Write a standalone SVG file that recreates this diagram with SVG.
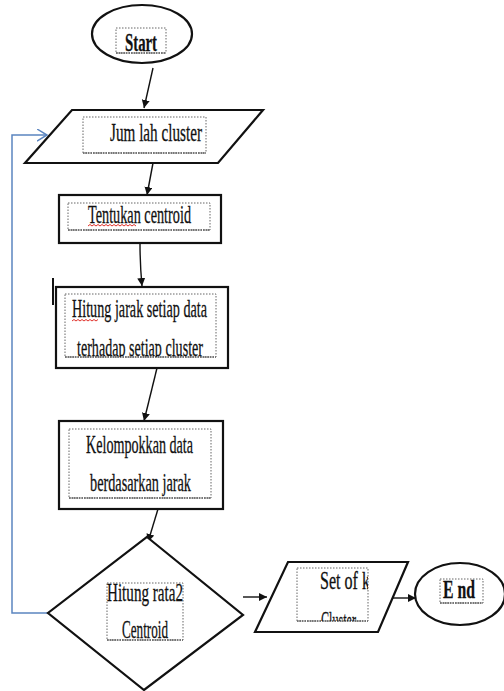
<svg xmlns="http://www.w3.org/2000/svg" width="504" height="691" viewBox="0 0 504 691">
<style>
.shape{fill:#fff;stroke:#111;stroke-width:2.2}
.tb{fill:none;stroke:#666;stroke-width:1;stroke-dasharray:1.5 1.5}
.tbb{stroke:#777;stroke-width:2;stroke-dasharray:1.5 1}
.t{font-family:"Liberation Serif","Times New Roman",serif;font-size:26px;fill:#111;stroke:#111;stroke-width:0.3}
.conn{fill:none;stroke:#111;stroke-width:1.4}
.loop{fill:none;stroke:#5b85c0;stroke-width:1.5}
.sq{fill:none;stroke:#e0302a;stroke-width:1}
</style>
<defs>
<marker id="ah" markerWidth="10" markerHeight="10" refX="8" refY="4" orient="auto" markerUnits="userSpaceOnUse">
<path d="M0,0 L8,4 L0,8 Z" fill="#111"/>
</marker>
<marker id="bh" markerWidth="14" markerHeight="14" refX="10" refY="6" orient="auto" markerUnits="userSpaceOnUse">
<path d="M0,0 L10,6 L0,12" fill="none" stroke="#5b85c0" stroke-width="1.5"/>
</marker>
<clipPath id="c1"><rect x="65" y="290" width="152" height="67"/></clipPath>
<clipPath id="c2"><rect x="297" y="565" width="71" height="56"/></clipPath>
</defs>

<g id="connectors">
<line class="conn" x1="153" y1="68" x2="144" y2="108" marker-end="url(#ah)"/>
<line class="conn" x1="153" y1="163" x2="147" y2="195" marker-end="url(#ah)"/>
<path class="conn" d="M140,243 Q140,265 142,286" marker-end="url(#ah)"/>
<line class="conn" x1="157" y1="368" x2="144" y2="421" marker-end="url(#ah)"/>
<line class="conn" x1="158" y1="509" x2="148" y2="542" marker-end="url(#ah)"/>
<line class="conn" x1="243" y1="597" x2="267" y2="597" marker-end="url(#ah)"/>
<line class="conn" x1="392" y1="598" x2="416" y2="598" marker-end="url(#ah)"/>
<polyline class="loop" points="48,613 12,613 12,135 47,135" marker-end="url(#bh)"/>
</g>

<g id="start">
<ellipse class="shape" cx="142" cy="34" rx="50" ry="29" stroke-width="1.5"/>
<rect class="tb" x="116" y="28" width="50" height="25"/>
<line class="tbb" x1="116" y1="53" x2="166" y2="53"/>
<text class="t" x="125" y="51" font-size="24" font-weight="bold" textLength="32" lengthAdjust="spacingAndGlyphs">Start</text>
</g>

<g id="jumlah">
<polygon class="shape" points="72,110 263,110 218,163 25,163"/>
<rect class="tb" x="83" y="117" width="123" height="36"/>
<line class="tbb" x1="83" y1="153" x2="206" y2="153"/>
<text class="t" x="110" y="141" textLength="92" lengthAdjust="spacingAndGlyphs">Jum lah cluster</text>
</g>

<g id="tentukan">
<rect class="shape" x="59" y="195" width="162" height="48"/>
<rect class="tb" x="68" y="203" width="142" height="27"/>
<line class="tbb" x1="68" y1="230" x2="210" y2="230"/>
<text class="t" x="88" y="223" textLength="103" lengthAdjust="spacingAndGlyphs">Tentukan  centroid</text>
<path class="sq" d="M88,226 l2,-1.5 l2,1.5 l2,-1.5 l2,1.5 l2,-1.5 l2,1.5 l2,-1.5 l2,1.5 l2,-1.5 l2,1.5 l2,-1.5 l2,1.5 l2,-1.5 l2,1.5 l2,-1.5 l2,1.5 l2,-1.5 l2,1.5 l2,-1.5 l2,1.5 l2,-1.5 l2,1.5 l2,-1.5 l2,1.5"/>
</g>

<g id="hitung-jarak">
<line x1="53" y1="278" x2="53" y2="305" stroke="#111" stroke-width="2"/>
<rect class="shape" x="56" y="287" width="172" height="81"/>
<rect class="tb" x="65" y="294" width="151" height="63"/>
<line class="tbb" x1="65" y1="357" x2="216" y2="357"/>
<text class="t" x="72" y="317" textLength="135" lengthAdjust="spacingAndGlyphs">Hitung jarak setiap data</text>
<g clip-path="url(#c1)"><text class="t" x="77" y="356" textLength="126" lengthAdjust="spacingAndGlyphs">terhadap setiap cluster</text></g>
<path class="sq" d="M72,321 l2,-1.5 l2,1.5 l2,-1.5 l2,1.5 l2,-1.5 l2,1.5 l2,-1.5 l2,1.5 l2,-1.5 l2,1.5 l2,-1.5 l2,1.5 l2,-1.5"/>
</g>

<g id="kelompok">
<rect class="shape" x="59" y="421" width="164" height="88"/>
<rect class="tb" x="69" y="429" width="142" height="69"/>
<line class="tbb" x1="69" y1="498" x2="211" y2="498"/>
<text class="t" x="86" y="453" textLength="107" lengthAdjust="spacingAndGlyphs">Kelompokkan  data</text>
<text class="t" x="90" y="491" textLength="101" lengthAdjust="spacingAndGlyphs">berdasarkan jarak</text>
</g>

<g id="rata2">
<polygon class="shape" points="147,537 243,615 144,690 48,613"/>
<rect class="tb" x="107" y="583" width="76" height="57"/>
<line class="tbb" x1="107" y1="640" x2="183" y2="640"/>
<text class="t" x="107" y="601" font-size="22" textLength="76" lengthAdjust="spacingAndGlyphs">Hitung  rata2</text>
<text class="t" x="122" y="638" font-size="22" textLength="46" lengthAdjust="spacingAndGlyphs">Centroid</text>
</g>

<g id="set">
<polygon class="shape" points="288,562 408,562 378,632 255,632"/>
<rect class="tb" x="297" y="568" width="71" height="53"/>
<line class="tbb" x1="297" y1="621" x2="368" y2="621"/>
<g clip-path="url(#c2)">
<text class="t" x="320" y="589" font-size="20" textLength="50" lengthAdjust="spacingAndGlyphs">Set of k</text>
<text class="t" x="321" y="629" font-size="20" textLength="35" lengthAdjust="spacingAndGlyphs">Cluster</text>
</g>
</g>

<g id="end">
<ellipse class="shape" cx="460" cy="594" rx="45" ry="31" stroke-width="1.5"/>
<rect class="tb" x="440" y="579" width="43" height="24"/>
<line class="tbb" x1="440" y1="603" x2="483" y2="603"/>
<text class="t" x="443" y="598" font-size="22" font-weight="bold" textLength="32" lengthAdjust="spacingAndGlyphs">E nd</text>
</g>
</svg>
